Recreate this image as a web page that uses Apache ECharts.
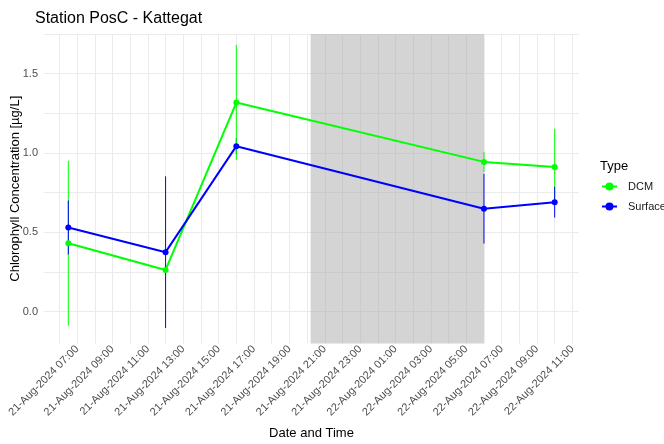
<!DOCTYPE html>
<html><head><meta charset="utf-8">
<script src="https://cdn.jsdelivr.net/npm/echarts@6/dist/echarts.min.js"></script>
<style>html,body{margin:0;padding:0;background:#fff}#c{width:664px;height:444px}</style>
</head><body><div id="c"></div>
<script>
// ---- data ----
const times = ['2024-08-21 06:30', '2024-08-21 12:00', '2024-08-21 16:00', '2024-08-22 06:00', '2024-08-22 10:00'];
const dcmMean = [0.431, 0.263, 1.318, 0.944, 0.912];
const dcmSd = [0.52, null, 0.363, 0.063, 0.24];
const surfaceMean = [0.530, 0.375, 1.043, 0.649, 0.690];
const surfaceSd = [0.17, 0.478, 0.05, 0.22, 0.097];
const nightStart = '2024-08-21 20:12';
const nightEnd = '2024-08-22 06:00';
const xTickLabels = ['2024-08-21 07:00', '2024-08-21 09:00', '2024-08-21 11:00', '2024-08-21 13:00', '2024-08-21 15:00',
  '2024-08-21 17:00', '2024-08-21 19:00', '2024-08-21 21:00', '2024-08-21 23:00', '2024-08-22 01:00',
  '2024-08-22 03:00', '2024-08-22 05:00', '2024-08-22 07:00', '2024-08-22 09:00', '2024-08-22 11:00'];
const yTickLabels = [0, 0.5, 1.0, 1.5];

// ---- helpers ----
function ts(s) {
  const [d, t] = s.split(' ');
  const [Y, M, D] = d.split('-').map(Number);
  const [h, m] = t.split(':').map(Number);
  return Date.UTC(Y, M - 1, D, h, m);
}
const MON = ['Jan','Feb','Mar','Apr','May','Jun','Jul','Aug','Sep','Oct','Nov','Dec'];
function p2(n) { return (n < 10 ? '0' : '') + n; }
function fmt(v) {
  const d = new Date(v);
  return p2(d.getUTCDate()) + '-' + MON[d.getUTCMonth()] + '-' + d.getUTCFullYear() + ' ' + p2(d.getUTCHours()) + ':' + p2(d.getUTCMinutes());
}
const HOUR = 3600000;
const tX = times.map(ts);
const labelVals = xTickLabels.map(ts);
const gridVals = [];
labelVals.forEach((v, i) => { gridVals.push(v - HOUR); gridVals.push(v); });
gridVals.push(labelVals[labelVals.length - 1] + HOUR);
const span = tX[tX.length - 1] - tX[0];
const xMin = tX[0] - 0.05 * span, xMax = tX[tX.length - 1] + 0.05 * span;
const yMin = -0.2, yMax = 1.75;
const yGrid = [];
yTickLabels.forEach(v => { yGrid.push(v); yGrid.push(v + 0.25); });

const colors = ['#00ff00', '#0000ff'];
// error bars, in drawing order: [x, low, high, typeIndex]
const order = [[0, 0], [0, 1], [1, 1], [1, 0], [2, 1], [2, 0], [3, 0], [3, 1], [4, 0], [4, 1]];
const errData = [];
order.forEach(([i, k]) => {
  const m = k === 0 ? dcmMean[i] : surfaceMean[i];
  const s = k === 0 ? dcmSd[i] : surfaceSd[i];
  if (s != null) errData.push([tX[i], m - s, m + s, k]);
});

const chart = echarts.init(document.getElementById('c'), null, {renderer: 'canvas'});
const FONT = 'Liberation Sans, Arial, sans-serif';
chart.setOption({
  animation: false,
  backgroundColor: '#ffffff',
  textStyle: {fontFamily: FONT},
  title: [
    {text: 'Station PosC - Kattegat', left: 30, top: 6, textStyle: {fontFamily: FONT, fontSize: 16, fontWeight: 'normal', color: '#000'}},
    {text: 'Type', left: 595, top: 155, textStyle: {fontFamily: FONT, fontSize: 13, fontWeight: 'normal', color: '#000'}}
  ],
  legend: {
    data: ['DCM', 'Surface'], orient: 'vertical', left: 596, top: 176,
    itemWidth: 15, itemHeight: 10, itemGap: 9,
    textStyle: {fontFamily: FONT, fontSize: 11, color: '#1a1a1a', padding: [0, 0, 0, 6]}
  },
  grid: {left: 44, right: 85, top: 34, bottom: 100.6, containLabel: false, outerBoundsMode: 'none'},
  xAxis: {
    type: 'value', min: xMin, max: xMax,
    axisLine: {show: false},
    axisTick: {show: false, customValues: gridVals},
    axisLabel: {customValues: labelVals, rotate: 45, formatter: fmt, color: '#4d4d4d', fontSize: 11, margin: 4, fontFamily: FONT},
    splitLine: {show: true, lineStyle: {color: '#ebebeb', width: 1}},
    name: 'Date and Time', nameLocation: 'middle', nameGap: 84, nameMoveOverlap: false,
    nameTextStyle: {color: '#000', fontSize: 13, fontFamily: FONT}
  },
  yAxis: {
    type: 'value', min: yMin, max: yMax,
    axisLine: {show: false},
    axisTick: {show: false, customValues: yGrid},
    axisLabel: {customValues: yTickLabels, formatter: v => v.toFixed(1), color: '#4d4d4d', fontSize: 11, margin: 6, fontFamily: FONT},
    splitLine: {show: true, lineStyle: {color: '#ebebeb', width: 1}},
    name: 'Chlorophyll Concentration [µg/L]', nameLocation: 'middle', nameGap: 22, nameMoveOverlap: false,
    nameTextStyle: {color: '#000', fontSize: 13, fontFamily: FONT}
  },
  series: [
    {
      type: 'custom', name: 'night', z: 1, silent: true,
      data: [[ts(nightStart), ts(nightEnd)]],
      encode: {x: [0, 1]},
      renderItem: function (params, api) {
        const a = api.coord([api.value(0), yMax]);
        const b = api.coord([api.value(1), yMin]);
        return {type: 'rect', shape: {x: a[0], y: a[1], width: b[0] - a[0], height: b[1] - a[1]},
          style: {fill: 'rgba(169,169,169,0.5)'}};
      }
    },
    {
      type: 'custom', name: 'err', z: 2, silent: true,
      data: errData, encode: {x: 0, y: [1, 2]},
      renderItem: function (params, api) {
        const p1 = api.coord([api.value(0), api.value(1)]);
        const p2 = api.coord([api.value(0), api.value(2)]);
        return {type: 'line', shape: {x1: p1[0], y1: p1[1], x2: p2[0], y2: p2[1]},
          style: {stroke: colors[api.value(3)], lineWidth: 1}};
      }
    },
    {
      type: 'line', name: 'DCM', z: 3, color: colors[0],
      data: tX.map((x, i) => [x, dcmMean[i]]),
      symbol: 'circle', symbolSize: 6, showSymbol: true,
      lineStyle: {width: 2, color: colors[0]}, itemStyle: {color: colors[0]}
    },
    {
      type: 'line', name: 'Surface', z: 3, color: colors[1],
      data: tX.map((x, i) => [x, surfaceMean[i]]),
      symbol: 'circle', symbolSize: 6, showSymbol: true,
      lineStyle: {width: 2, color: colors[1]}, itemStyle: {color: colors[1]}
    }
  ]
});
</script></body></html>
